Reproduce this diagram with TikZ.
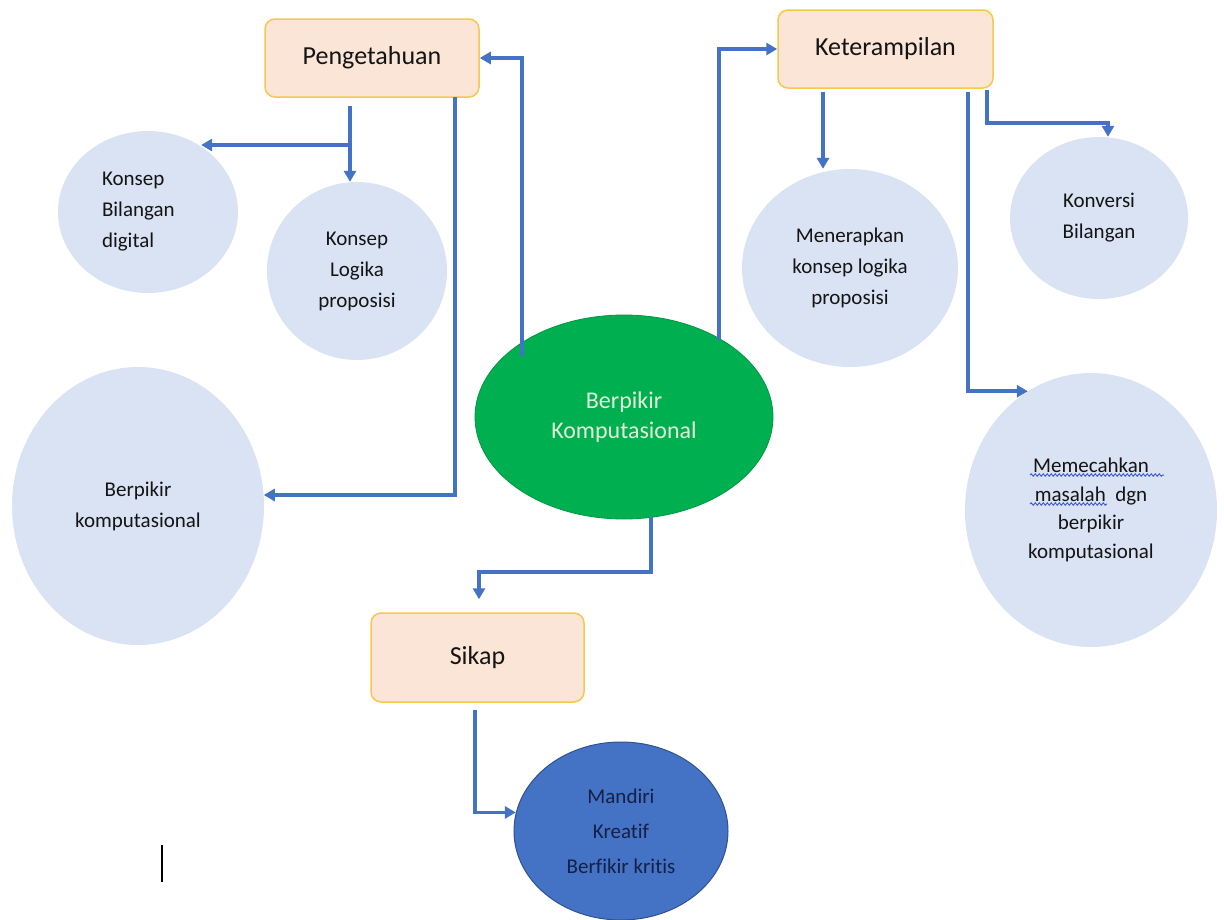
\documentclass[tikz,border=0pt]{standalone}
\usepackage{fontspec}
\setmainfont{Carlito}[RawFeature=-liga]
\usetikzlibrary{arrows.meta,shapes.geometric,decorations.pathmorphing}
\definecolor{arrblue}{RGB}{68,114,196}
\definecolor{circfill}{RGB}{218,227,243}
\definecolor{boxfill}{RGB}{251,229,214}
\definecolor{boxline}{RGB}{245,200,80}
\definecolor{greenfill}{RGB}{0,176,80}
\definecolor{greentext}{RGB}{226,240,217}
\definecolor{darkblue}{RGB}{47,82,143}
\definecolor{navytext}{RGB}{20,32,70}
\definecolor{labeltext}{RGB}{20,20,20}
\definecolor{squiggle}{RGB}{60,90,210}
\tikzset{
  arr/.style={draw=arrblue, line width=3.5pt, -{Triangle[length=11pt,width=12pt]}},
  topicbox/.style={draw=boxline, line width=1.5pt, fill=boxfill, rounded corners=10pt,
    inner sep=0pt, text=labeltext, font=\fontsize{26}{30}\selectfont},
  bubble/.style={ellipse, fill=circfill, inner sep=0pt, text=labeltext, align=center,
    font=\fontsize{21}{31}\selectfont},
  squig/.style={draw=squiggle, line width=1pt, decorate,
    decoration={snake, segment length=4pt, amplitude=1.1pt}}
}
\begin{document}
\begin{tikzpicture}[x=1pt,y=-1pt]
\useasboundingbox (0,0) rectangle (1224,919);

% topic boxes
\node[topicbox, minimum width=214pt, minimum height=78pt] (P) at (372,58) {Pengetahuan};
\node[topicbox, minimum width=215pt, minimum height=78pt] (K) at (885.5,49) {Keterampilan};
\node[topicbox, minimum width=213pt, minimum height=89pt] (S) at (477.5,657.5) {Sikap};

% central ellipse
\node[ellipse, fill=greenfill, draw=greenfill!85!black, line width=0.8pt, inner sep=0pt,
  minimum width=298pt, minimum height=204pt, text=greentext, align=center,
  font=\fontsize{24}{30}\selectfont] (G) at (624,417) {Berpikir\\Komputasional};

% knowledge bubbles
\node[bubble, minimum width=180pt, minimum height=162pt, text width=92pt, align=left] (B) at (148,212)
  {Konsep\\Bilangan\\digital};
\node[bubble, minimum width=180pt, minimum height=178pt] (L) at (357,271)
  {Konsep\\Logika\\proposisi};
\node[bubble, minimum width=252pt, minimum height=278pt] (C) at (138,506)
  {Berpikir\\komputasional};

% skill bubbles
\node[bubble, minimum width=216pt, minimum height=198pt] (M) at (850,268)
  {Menerapkan\\konsep logika\\proposisi};
\node[bubble, minimum width=178pt, minimum height=162pt] (V) at (1099,218)
  {Konversi\\Bilangan};
\node[bubble, minimum width=252pt, minimum height=274pt, font=\fontsize{21}{28.5}\selectfont] (X) at (1091,510)
  {Memecahkan\\masalah\ \ dgn\\berpikir\\komputasional};

% attitude bubble
\node[ellipse, fill=arrblue, draw=darkblue, line width=1pt, inner sep=0pt,
  minimum width=214pt, minimum height=178pt, text=navytext, align=center,
  font=\fontsize{21}{35}\selectfont] (D) at (621,831)
  {Mandiri\\Kreatif\\Berfikir kritis};

% spell-check squiggles
\draw[squig] (1030,475) -- (1164,475);
\draw[squig] (1030,504) -- (1107,504);

% cursor bar
\draw[black, line width=1.6pt] (162,845) -- (162,882);

% connector points
\coordinate (gA) at (522,356);
\coordinate (gB) at (719,340);
\coordinate (g3) at (651,517);
\coordinate (p1) at (350,106);
\coordinate (p2) at (350,145);
\coordinate (p3) at (455,97);
\coordinate (k1) at (823,92);
\coordinate (k2) at (987,90);
\coordinate (k3) at (1108,123);
\coordinate (k4) at (968,92);
\coordinate (s1) at (479,572);
\coordinate (s2) at (475,710);

% connectors
\draw[arr] (gA) |- (P.east);
\draw[arr] (gB) |- (K.west);
\draw[arr] (p1) -- (p1 |- L.north);
\draw[arr] (p2) -- (p2 -| B.51);
\draw[arr] (p3) |- (C.5);
\draw[arr] (k1) -- (k1 |- M.north);
\draw[arr] (k2) |- (k3) -- (k3 |- V.north);
\draw[arr] (k4) |- (X.118);
\draw[arr, shorten >=13pt] (g3) |- (s1) -- (s1 |- S.north);
\draw[arr] (s2) |- (D.170);
\end{tikzpicture}
\end{document}
